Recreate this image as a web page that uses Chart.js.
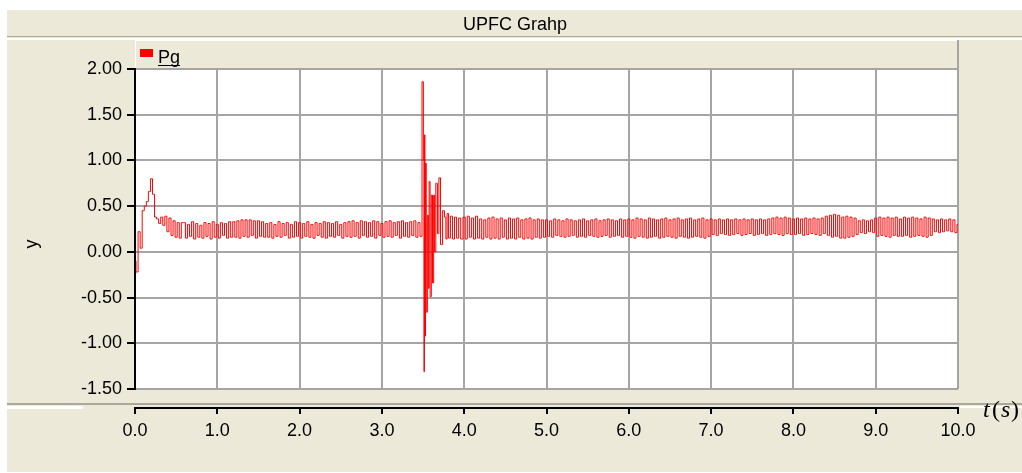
<!DOCTYPE html>
<html>
<head>
<meta charset="utf-8">
<title>UPFC Grahp</title>
<script src="https://cdn.jsdelivr.net/npm/chart.js@4.4.1/dist/chart.umd.min.js"></script>
<style>
  html, body { margin: 0; padding: 0; background: #fff; }
  canvas { display: block; }
</style>
</head>
<body>
<canvas id="grafica" width="1022" height="473"></canvas>
<script>
// Datos (Pg contra t en segundos)
const pasoT = 0.025;

// arranque 0.0 - 0.575 s
const tArranque = 0;
const pgArranque = [-0.10, -0.22, 0.22, 0.04, 0.45, 0.50, 0.55, 0.66, 0.80, 0.63, 0.38, 0.36,
  0.31, 0.38, 0.29, 0.39, 0.22, 0.37, 0.18, 0.34, 0.16, 0.32, 0.15, 0.32];

// estado estable 0.6 - 3.475 s
const tEstableA = 0.6;
const pgEstableA = [
  0.32, 0.15, 0.30, 0.17, 0.33, 0.14, 0.31, 0.16, 0.29, 0.15, 0.32, 0.17,
  0.31, 0.14, 0.33, 0.16, 0.30, 0.15, 0.32, 0.18, 0.31, 0.15, 0.33, 0.16,
  0.33, 0.16, 0.34, 0.15, 0.35, 0.17, 0.35, 0.16, 0.35, 0.18, 0.34, 0.15, 0.34, 0.17, 0.33, 0.16,
  0.31, 0.16, 0.32, 0.15, 0.30, 0.17, 0.33, 0.16, 0.31, 0.18, 0.32, 0.15, 0.30, 0.16, 0.33, 0.17,
  0.32, 0.15, 0.31, 0.17, 0.33, 0.16, 0.30, 0.15, 0.32, 0.18, 0.31, 0.16, 0.33, 0.15, 0.32, 0.17,
  0.31, 0.16, 0.33, 0.18, 0.30, 0.15, 0.32, 0.17,
  0.33, 0.16, 0.34, 0.17, 0.32, 0.15, 0.34, 0.18, 0.33, 0.16, 0.32, 0.17, 0.34, 0.15, 0.33, 0.18,
  0.31, 0.16, 0.33, 0.17, 0.34, 0.16, 0.32, 0.18, 0.33, 0.15, 0.34, 0.17, 0.32, 0.16, 0.33, 0.18,
  0.34, 0.16, 0.32, 0.17];

// falla alrededor de 3.5 s
const tFalla = [3.500, 3.508, 3.514, 3.520, 3.527, 3.533, 3.545, 3.560, 3.570, 3.578,
  3.593, 3.608, 3.622, 3.635, 3.645, 3.665, 3.685, 3.700, 3.725, 3.750,
  3.770, 3.785, 3.800, 3.820, 3.845, 3.870, 3.895, 3.920, 3.945, 3.970];
const pgFalla = [1.86, 1.00, -1.31, 1.28, -0.92, 0.97, -0.66, 0.40, -0.40, 0.77,
  -0.49, 0.62, -0.34, 0.62, 0.00, 0.75, 0.20, 0.81, 0.08, 0.45,
  0.38, 0.14, 0.42, 0.15, 0.39, 0.14, 0.38, 0.15, 0.37, 0.14];

// despues de la falla 4.0 - 10.0 s
const tEstableB = 4.0;
const pgEstableB = [
  0.38, 0.14, 0.39, 0.16, 0.37, 0.14, 0.39, 0.15, 0.36, 0.14, 0.35, 0.16, 0.37, 0.14, 0.38, 0.15, 0.36, 0.14, 0.37, 0.16,
  0.35, 0.14, 0.37, 0.15, 0.36, 0.14, 0.37, 0.16, 0.35, 0.14, 0.36, 0.15, 0.37, 0.14, 0.35, 0.16, 0.36, 0.15, 0.35, 0.16,
  0.35, 0.17, 0.34, 0.16, 0.36, 0.18, 0.35, 0.17, 0.34, 0.16, 0.36, 0.17, 0.35, 0.18, 0.34, 0.16, 0.35, 0.17, 0.36, 0.16,
  0.34, 0.18, 0.35, 0.17, 0.36, 0.16, 0.34, 0.17, 0.35, 0.18, 0.36, 0.16, 0.35, 0.17, 0.34, 0.18, 0.36, 0.16, 0.35, 0.17,
  0.36, 0.16, 0.35, 0.15, 0.37, 0.17, 0.36, 0.16, 0.35, 0.15, 0.37, 0.16, 0.36, 0.17, 0.35, 0.15, 0.36, 0.16, 0.37, 0.17,
  0.35, 0.16, 0.36, 0.15, 0.37, 0.17, 0.35, 0.16, 0.36, 0.15, 0.37, 0.16, 0.35, 0.17, 0.36, 0.16, 0.37, 0.15, 0.35, 0.17,
  0.36, 0.19, 0.35, 0.18, 0.36, 0.20, 0.35, 0.19, 0.36, 0.18, 0.35, 0.19, 0.36, 0.20, 0.35, 0.18, 0.36, 0.19, 0.35, 0.20,
  0.36, 0.18, 0.35, 0.19, 0.36, 0.20, 0.35, 0.18, 0.36, 0.19, 0.37, 0.20, 0.38, 0.19, 0.37, 0.18, 0.38, 0.20, 0.37, 0.19,
  0.36, 0.19, 0.37, 0.20, 0.36, 0.18, 0.37, 0.19, 0.36, 0.20, 0.37, 0.19, 0.36, 0.18, 0.37, 0.20,
  0.39, 0.18, 0.40, 0.16, 0.41, 0.17, 0.40, 0.15, 0.38, 0.15, 0.39, 0.16, 0.38, 0.17, 0.37, 0.19,
  0.34, 0.21, 0.35, 0.20, 0.34, 0.22, 0.35, 0.21,
  0.37, 0.17, 0.38, 0.18, 0.37, 0.17, 0.38, 0.16, 0.37, 0.18, 0.38, 0.17, 0.36, 0.17,
  0.38, 0.18, 0.37, 0.16, 0.38, 0.17, 0.37, 0.18, 0.36, 0.17, 0.38, 0.16, 0.37, 0.18,
  0.36, 0.22, 0.35, 0.21, 0.36, 0.22, 0.35, 0.23, 0.36, 0.22, 0.35, 0.21,
  0.30];

const ticksX = [0, 1, 2, 3, 4, 5, 6, 7, 8, 9, 10];
const ticksY = [-1.5, -1.0, -0.5, 0, 0.5, 1.0, 1.5, 2.0];

const beige = "#ece9d8";
const gris = "#a5a5a5";
const fuente = '"Liberation Sans", Arial, sans-serif';

function segmento(t0, valores) {
  return valores.map((v, i) => ({ x: +(t0 + i * pasoT).toFixed(3), y: v }));
}

const puntos = [].concat(
  segmento(tArranque, pgArranque),
  segmento(tEstableA, pgEstableA),
  tFalla.map((t, i) => ({ x: t, y: pgFalla[i] })),
  segmento(tEstableB, pgEstableB)
);

// Fondo estilo ventana, titulo, leyenda y eje x separado
const marco = {
  id: "marco",
  beforeDraw(chart) {
    const { ctx, chartArea: a, width, height } = chart;
    ctx.save();
    ctx.fillStyle = "#fff";
    ctx.fillRect(0, 0, width, height);
    ctx.fillStyle = beige;
    ctx.fillRect(7, 10, width - 7, 462);

    // separador del titulo
    ctx.fillStyle = "#aca899";
    ctx.fillRect(7, 36, width - 7, 1);
    ctx.fillStyle = "#fff";
    ctx.fillRect(7, 38, width - 7, 2);

    // banda de la leyenda
    ctx.fillStyle = beige;
    ctx.fillRect(a.left, 40, a.right - a.left, a.top - 40);
    ctx.fillStyle = "#fff";
    ctx.fillRect(a.left, 40, a.right - a.left, 1);
    ctx.fillRect(a.left, 40, 1, a.top - 40);
    ctx.fillStyle = gris;
    ctx.fillRect(a.right - 1, 40, 2, a.top - 40);

    // area de la grafica
    ctx.fillStyle = "#fff";
    ctx.fillRect(a.left, a.top, a.right - a.left, a.bottom - a.top);

    // separador inferior
    ctx.fillStyle = "#aca899";
    ctx.fillRect(7, 403, width - 7, 2);
    ctx.fillStyle = "#fff";
    ctx.fillRect(7, 406, 76, 3);
    ctx.fillRect(a.right, 406, width - a.right, 2);
    ctx.restore();
  },
  afterDraw(chart) {
    const { ctx, chartArea: a } = chart;
    const xs = chart.scales.x;
    ctx.save();
    // eje x con marcas
    ctx.fillStyle = "#000";
    ctx.fillRect(a.left, 407, a.right - a.left + 1, 2);
    ticksX.forEach((v) => {
      const px = Math.round(xs.getPixelForValue(v));
      ctx.fillRect(px - 1, 407, 2, 7);
    });

    // titulo
    ctx.font = "18px " + fuente;
    ctx.textAlign = "center";
    ctx.textBaseline = "alphabetic";
    ctx.fillText("UPFC Grahp", 515, 30);

    // leyenda
    ctx.fillStyle = "#ff0000";
    ctx.fillRect(140, 49, 13, 8);
    ctx.fillStyle = "#000";
    ctx.textAlign = "left";
    ctx.fillText("Pg", 158, 63);
    const w = ctx.measureText("Pg").width;
    ctx.fillRect(158, 65, w, 1);

    // titulo eje y
    ctx.save();
    ctx.translate(32, 244);
    ctx.rotate(-Math.PI / 2);
    ctx.textAlign = "center";
    ctx.textBaseline = "middle";
    ctx.fillText("y", 0, 0);
    ctx.restore();

    // t(s)
    ctx.font = 'italic 24px "Liberation Serif", "Times New Roman", serif';
    ctx.fillText("t", 983, 417);
    ctx.fillText("s", 1001, 417);
    ctx.font = '24px "Liberation Serif", "Times New Roman", serif';
    ctx.fillText("(", 992, 417);
    ctx.fillText(")", 1011, 417);
    ctx.restore();
  },
};

Chart.defaults.font.family = fuente;
Chart.defaults.font.size = 18;
Chart.defaults.color = "#000";

const ctx = document.getElementById("grafica");
const grafica = new Chart(ctx, {
  type: "line",
  data: {
    datasets: [
      {
        label: "Pg",
        data: puntos,
        borderColor: "#ff0000",
        borderWidth: 1,
        pointRadius: 0,
        stepped: "middle",
        fill: false,
      },
    ],
  },
  options: {
    responsive: false,
    animation: false,
    events: [],
    layout: { padding: { top: 69, right: 64, bottom: 0, left: 0 } },
    plugins: {
      legend: { display: false },
      title: { display: false },
      tooltip: { enabled: false },
    },
    scales: {
      x: {
        type: "linear",
        min: 0,
        max: 10,
        afterBuildTicks: (s) => { s.ticks = ticksX.map((v) => ({ value: v })); },
        afterFit: (s) => { s.height = 84; },
        ticks: { padding: 31, maxRotation: 0, callback: (v) => v.toFixed(1) },
        grid: { color: gris, lineWidth: 2, drawTicks: false },
        border: { display: false },
      },
      y: {
        min: -1.5,
        max: 2,
        afterBuildTicks: (s) => { s.ticks = ticksY.map((v) => ({ value: v })); },
        afterFit: (s) => { s.width = 135; },
        ticks: { padding: 5, callback: (v) => v.toFixed(2) },
        grid: { color: gris, lineWidth: 2, tickLength: 8, tickColor: "#000", tickWidth: 2 },
        border: { display: true, color: "#000", width: 2, z: 1 },
      },
    },
  },
  plugins: [marco],
});
</script>
</body>
</html>
